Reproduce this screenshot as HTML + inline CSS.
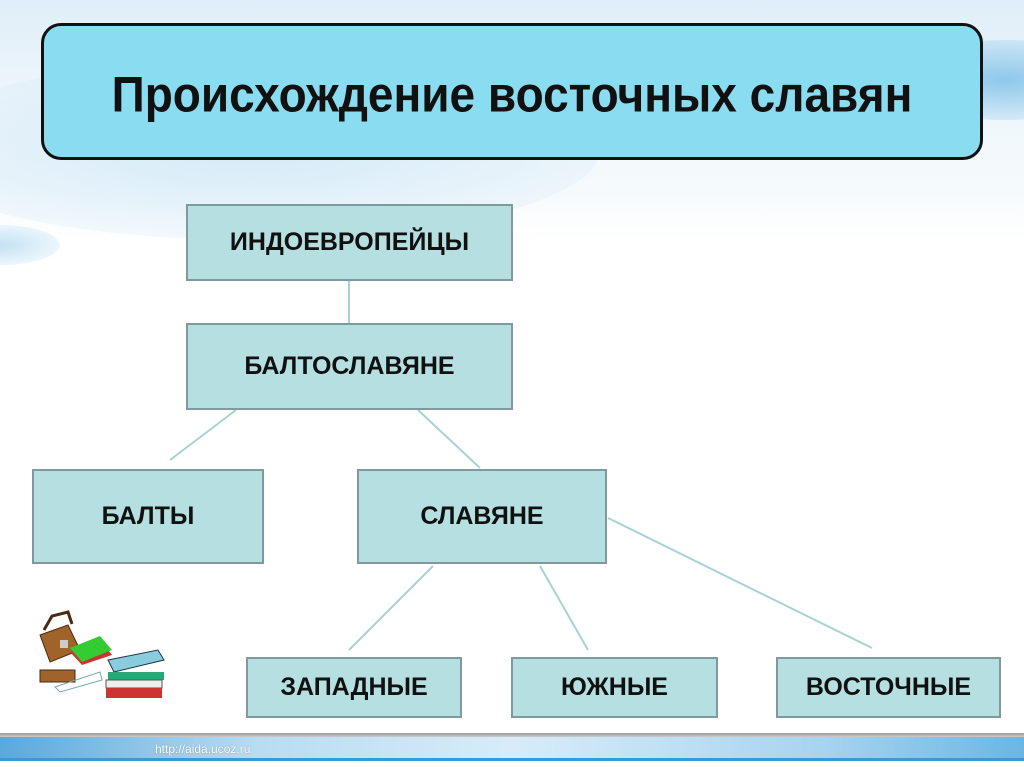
<!DOCTYPE html>
<html><head><meta charset="utf-8"><style>
html,body{margin:0;padding:0;}
body{width:1024px;height:767px;position:relative;overflow:hidden;background:#fff;font-family:"Liberation Sans",Arial,sans-serif;}
.bg1{position:absolute;left:0;top:0;width:1024px;height:240px;background:linear-gradient(180deg,#dfeef8 0%,#eef6fb 40%,#f6fafd 80%,#fff 100%);}
.sw{position:absolute;border-radius:50%;}
.title{position:absolute;left:41px;top:23px;width:936px;height:131px;background:#8adcf1;border:3px solid #111;border-radius:20px;display:flex;align-items:center;justify-content:center;}
.title span{font-weight:bold;font-size:46px;color:#111;display:inline-block;white-space:nowrap;transform:scaleY(1.08);position:relative;top:2px;}
.b{position:absolute;background:#b5dfe0;border:2px solid #7f9a9c;box-sizing:border-box;display:flex;align-items:center;justify-content:center;font-weight:bold;font-size:25px;color:#111;}
.foot{position:absolute;left:0;top:733px;width:1024px;height:34px;}
</style></head><body>
<div class="bg1"></div>
<div class="sw" style="left:-100px;top:60px;width:700px;height:180px;background:radial-gradient(ellipse at center,rgba(200,228,245,0.7),rgba(255,255,255,0));"></div>
<div class="sw" style="left:880px;top:40px;width:250px;height:80px;background:radial-gradient(ellipse at center,rgba(80,170,225,0.6),rgba(255,255,255,0));"></div>
<div class="sw" style="left:-60px;top:225px;width:120px;height:40px;background:radial-gradient(ellipse at center,rgba(80,170,225,0.35),rgba(255,255,255,0));"></div>
<div class="title"><span>Происхождение восточных славян</span></div>
<svg style="position:absolute;left:0;top:0" width="1024" height="767">
<g stroke="#a8d3d4" stroke-width="2" fill="none">
<line x1="349" y1="281" x2="349" y2="323"/>
<line x1="236" y1="410" x2="170" y2="460"/>
<line x1="418" y1="410" x2="480" y2="468"/>
<line x1="433" y1="566" x2="349" y2="650"/>
<line x1="540" y1="566" x2="588" y2="650"/>
<line x1="608" y1="518" x2="872" y2="648"/>
</g>
<g>
<path d="M40 635 L68 625 L80 650 L50 662 Z" fill="#a0642a" stroke="#4a2a10"/>
<path d="M44 630 L52 616 L68 612 L72 624" fill="none" stroke="#4a2a10" stroke-width="3"/>
<rect x="60" y="640" width="8" height="8" fill="#ccc"/>
<path d="M70 652 L100 640 L112 655 L82 665 Z" fill="#c33"/>
<path d="M70 648 L100 636 L112 650 L82 662 Z" fill="#3c3"/>
<rect x="40" y="670" width="35" height="12" fill="#a0642a" stroke="#4a2a10"/>
<path d="M55 687 L100 672 L102 680 L60 692 Z" fill="none" stroke="#7aa"/>
<path d="M108 660 L158 650 L164 660 L114 672 Z" fill="#8cd" stroke="#234"/>
<rect x="108" y="672" width="56" height="8" fill="#2a7"/>
<rect x="106" y="680" width="56" height="8" fill="#eee" stroke="#555"/>
<rect x="106" y="688" width="56" height="10" fill="#c33"/>
</g>
</svg>
<div class="b" style="left:186px;top:204px;width:327px;height:77px;">ИНДОЕВРОПЕЙЦЫ</div>
<div class="b" style="left:186px;top:323px;width:327px;height:87px;">БАЛТОСЛАВЯНЕ</div>
<div class="b" style="left:32px;top:469px;width:232px;height:95px;">БАЛТЫ</div>
<div class="b" style="left:357px;top:469px;width:250px;height:95px;">СЛАВЯНЕ</div>
<div class="b" style="left:246px;top:657px;width:216px;height:61px;">ЗАПАДНЫЕ</div>
<div class="b" style="left:511px;top:657px;width:207px;height:61px;">ЮЖНЫЕ</div>
<div class="b" style="left:776px;top:657px;width:225px;height:61px;">ВОСТОЧНЫЕ</div>
<div class="foot">
<div style="position:absolute;left:0;top:0;width:1024px;height:4px;background:linear-gradient(180deg,#999,#ccc);"></div>
<div style="position:absolute;left:0;top:4px;width:1024px;height:24px;background:linear-gradient(90deg,#5aa8dc 0%,#b8dcf2 25%,#d8ecf8 50%,#a8d4f0 80%,#6ab6e4 100%);"></div>
<div style="position:absolute;left:0;top:25px;width:1024px;height:3px;background:#3b9ad6;"></div>
<div style="position:absolute;left:155px;top:9px;font-size:12px;color:#fff;text-shadow:0 0 1px #678;">http://aida.ucoz.ru</div>
</div>
</body></html>
